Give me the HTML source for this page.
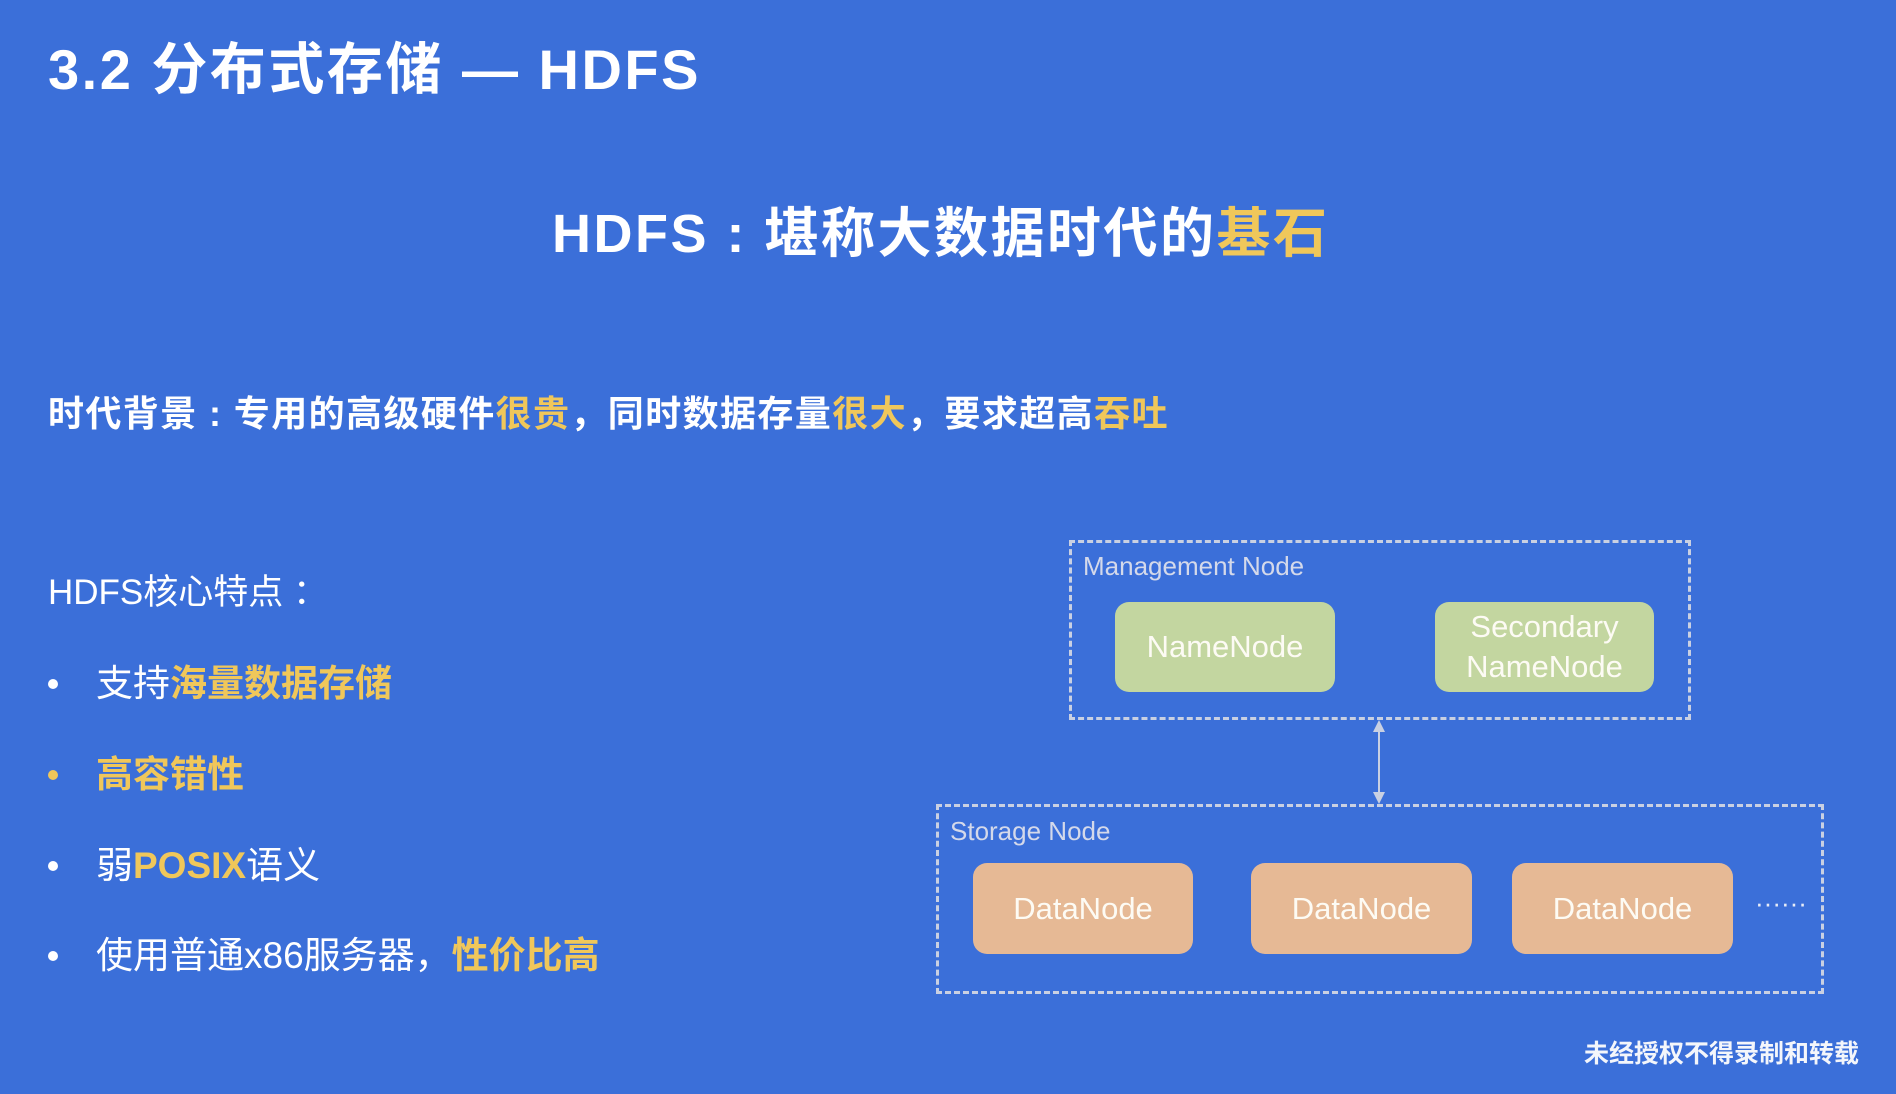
<!DOCTYPE html>
<html><head><meta charset="utf-8"><style>
*{margin:0;padding:0;box-sizing:border-box}
body{width:1896px;height:1094px;background:#3b6fd9;position:relative;overflow:hidden;font-family:"Liberation Sans","Noto Sans CJK SC",sans-serif;color:#fff}
.a{position:absolute;white-space:nowrap}
.y{color:#f0c75a}
.b{font-weight:bold}
.box{position:absolute;border:3px dashed #c9d0e2}
.n{position:absolute;border-radius:14px;display:flex;align-items:center;justify-content:center;text-align:center;font-size:31px;color:#fdfbf4;line-height:40px}
.g{background:#c3d6a0}
.o{background:#e6b995}
.lbl{position:absolute;font-size:26px;color:#d4d9ea;line-height:30px}
.dot{position:absolute;width:10px;height:10px;border-radius:50%;background:#fff}
</style></head><body>
<div class="a b" style="left:48px;top:40px;font-size:56px;line-height:60px;letter-spacing:2.5px">3.2 分布式存储 — HDFS</div>
<div class="a b" style="left:552px;top:205px;font-size:54px;line-height:58px;letter-spacing:2.5px">HDFS : 堪称大数据时代的<span class="y">基石</span></div>
<div class="a b" style="left:48px;top:394px;font-size:36px;line-height:40px;letter-spacing:1.4px">时代背景 : 专用的高级硬件<span class="y">很贵</span>，同时数据存量<span class="y">很大</span>，要求超高<span class="y">吞吐</span></div>
<div class="a" style="left:48px;top:574px;font-size:35px;line-height:38px">HDFS核心特点 ：</div>
<div class="dot" style="left:48px;top:679px"></div>
<div class="a" style="left:96px;top:664px;font-size:37px;line-height:40px">支持<span class="y b">海量数据存储</span></div>
<div class="dot" style="left:48px;top:770px;background:#f0c75a"></div>
<div class="a y b" style="left:96px;top:755px;font-size:37px;line-height:40px">高容错性</div>
<div class="dot" style="left:48px;top:861px"></div>
<div class="a" style="left:96px;top:846px;font-size:37px;line-height:40px">弱<span class="y b">POSIX</span>语义</div>
<div class="dot" style="left:48px;top:951px"></div>
<div class="a" style="left:96px;top:936px;font-size:37px;line-height:40px">使用普通x86服务器，<span class="y b">性价比高</span></div>

<div class="box" style="left:1069px;top:540px;width:622px;height:180px"></div>
<div class="lbl" style="left:1083px;top:551px">Management Node</div>
<div class="n g" style="left:1115px;top:602px;width:220px;height:90px">NameNode</div>
<div class="n g" style="left:1435px;top:602px;width:219px;height:90px">Secondary<br>NameNode</div>

<svg class="a" style="left:0;top:0" width="1896" height="1094">
<line x1="1379" y1="722" x2="1379" y2="802" stroke="#c9d0e2" stroke-width="2"/>
<path d="M1373 732 L1379 720 L1385 732 Z" fill="#c9d0e2"/>
<path d="M1373 792 L1379 804 L1385 792 Z" fill="#c9d0e2"/>
</svg>

<div class="box" style="left:936px;top:804px;width:888px;height:190px"></div>
<div class="lbl" style="left:950px;top:816px">Storage Node</div>
<div class="n o" style="left:973px;top:863px;width:220px;height:91px">DataNode</div>
<div class="n o" style="left:1251px;top:863px;width:221px;height:91px">DataNode</div>
<div class="n o" style="left:1512px;top:863px;width:221px;height:91px">DataNode</div>
<div class="a" style="left:1755px;top:890px;font-size:26px;line-height:26px;color:#e8ecf6">······</div>

<div class="a b" style="left:1584px;top:1040px;font-size:25px;line-height:28px;color:#f4f6fb">未经授权不得录制和转载</div>
</body></html>
